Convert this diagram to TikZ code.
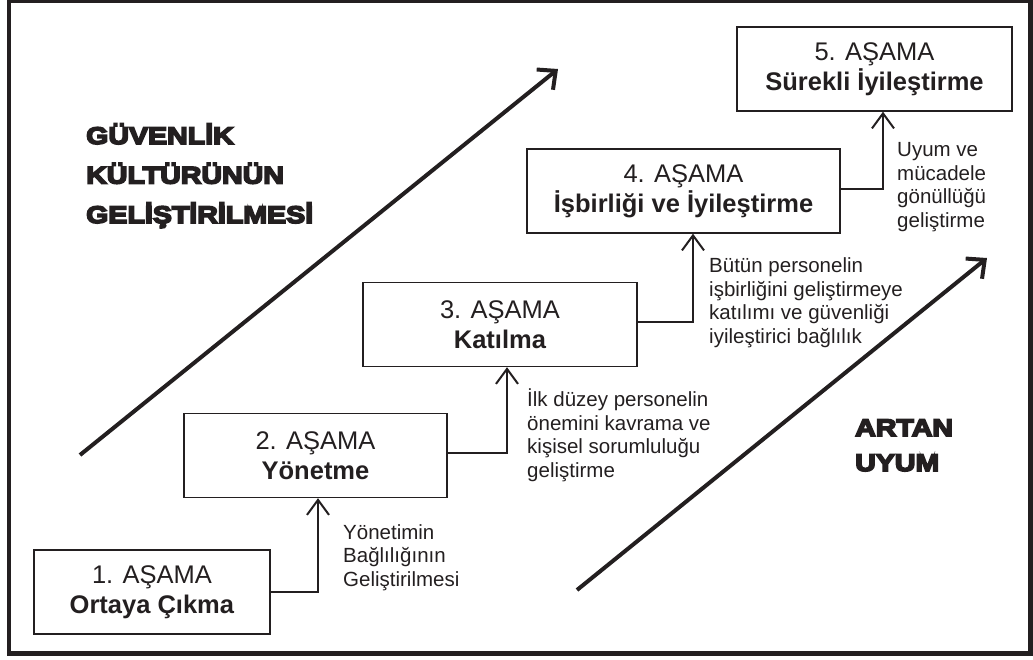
\documentclass[tikz,border=0pt]{standalone}
\usepackage{fontspec}
\setmainfont{Liberation Sans}
\newfontfamily\heavyfont[FakeBold=7,FakeStretch=1.19]{Liberation Sans Bold}
\usetikzlibrary{arrows.meta}
\definecolor{ink}{HTML}{231F20}
\begin{document}
\begin{tikzpicture}[x=1pt,y=-1pt,
  stage/.style={draw=ink, line width=1.4pt, fill=white, minimum width=#1,
    minimum height=84pt, inner sep=0pt, align=center, text=ink,
    font=\fontsize{25.5}{30}\selectfont},
  note/.style={anchor=base west, align=left, inner sep=0pt, text=ink,
    font=\fontsize{20.5}{23.5}\selectfont},
  heavy/.style={anchor=base west, align=left, inner sep=0pt, text=ink,
    font=\fontsize{24}{#1}\heavyfont},
  link/.style={draw=ink, line width=2pt, -{Straight Barb[length=15pt,width=22pt]}},
  trend/.style={draw=ink, line width=4pt, -{Straight Barb[length=14pt,width=26pt]}}
]
\useasboundingbox (0,0) rectangle (1033,659);
% outer frame
\draw[ink, line width=4.5pt] (9,1) rectangle (1030.5,653.5);

% rising trend arrows
\coordinate (ta) at (80,455);
\coordinate (tb) at (558,69);
\coordinate (tc) at (577,590);
\coordinate (td) at (987,258);
\draw[trend] (ta) -- (tb);
\draw[trend] (tc) -- (td);

% headings (anchored at the baseline of their last line)
\node[heavy=39.5] (h1) at (86,223) {GÜVENLİK\\KÜLTÜRÜNÜN\\GELİŞTİRİLMESİ};
\node[heavy=35] (h2) at (855,471) {ARTAN\\UYUM};

% stages
\node[stage=236pt] (b1) at (152,592)   {1. AŞAMA\\\textbf{Ortaya Çıkma}};
\node[stage=263pt] (b2) at (315.5,455.5) {2. AŞAMA\\\textbf{Yönetme}};
\node[stage=274pt] (b3) at (500,324.5) {3. AŞAMA\\\textbf{Katılma}};
\node[stage=313pt] (b4) at (683.5,191) {4. AŞAMA\\\textbf{İşbirliği ve İyileştirme}};
\node[stage=275pt] (b5) at (874.5,69)  {5. AŞAMA\\\textbf{Sürekli İyileştirme}};

% step connectors
\coordinate (k1) at (318,0);
\coordinate (k2) at (507,0);
\coordinate (k3) at (693,0);
\coordinate (k4) at (883,0);
\draw[link] (b1.east) -| (k1 |- b2.south);
\draw[link] ([yshift=2.5pt]b2.east) -| (k2 |- b3.south);
\draw[link] ([yshift=2.5pt]b3.east) -| (k3 |- b4.south);
\draw[link] ([yshift=2pt]b4.east) -| (k4 |- b5.south);

% step notes (anchored at the baseline of their last line)
\node[note] (n1) at (343,586) {Yönetimin\\Bağlılığının\\Geliştirilmesi};
\node[note] (n2) at (527,477) {İlk düzey personelin\\önemini kavrama ve\\kişisel sorumluluğu\\geliştirme};
\node[note] (n3) at (709,343) {Bütün personelin\\işbirliğini geliştirmeye\\katılımı ve güvenliği\\iyileştirici bağlılık};
\node[note] (n4) at (897,227) {Uyum ve\\mücadele\\gönüllüğü\\geliştirme};
\end{tikzpicture}
\end{document}
